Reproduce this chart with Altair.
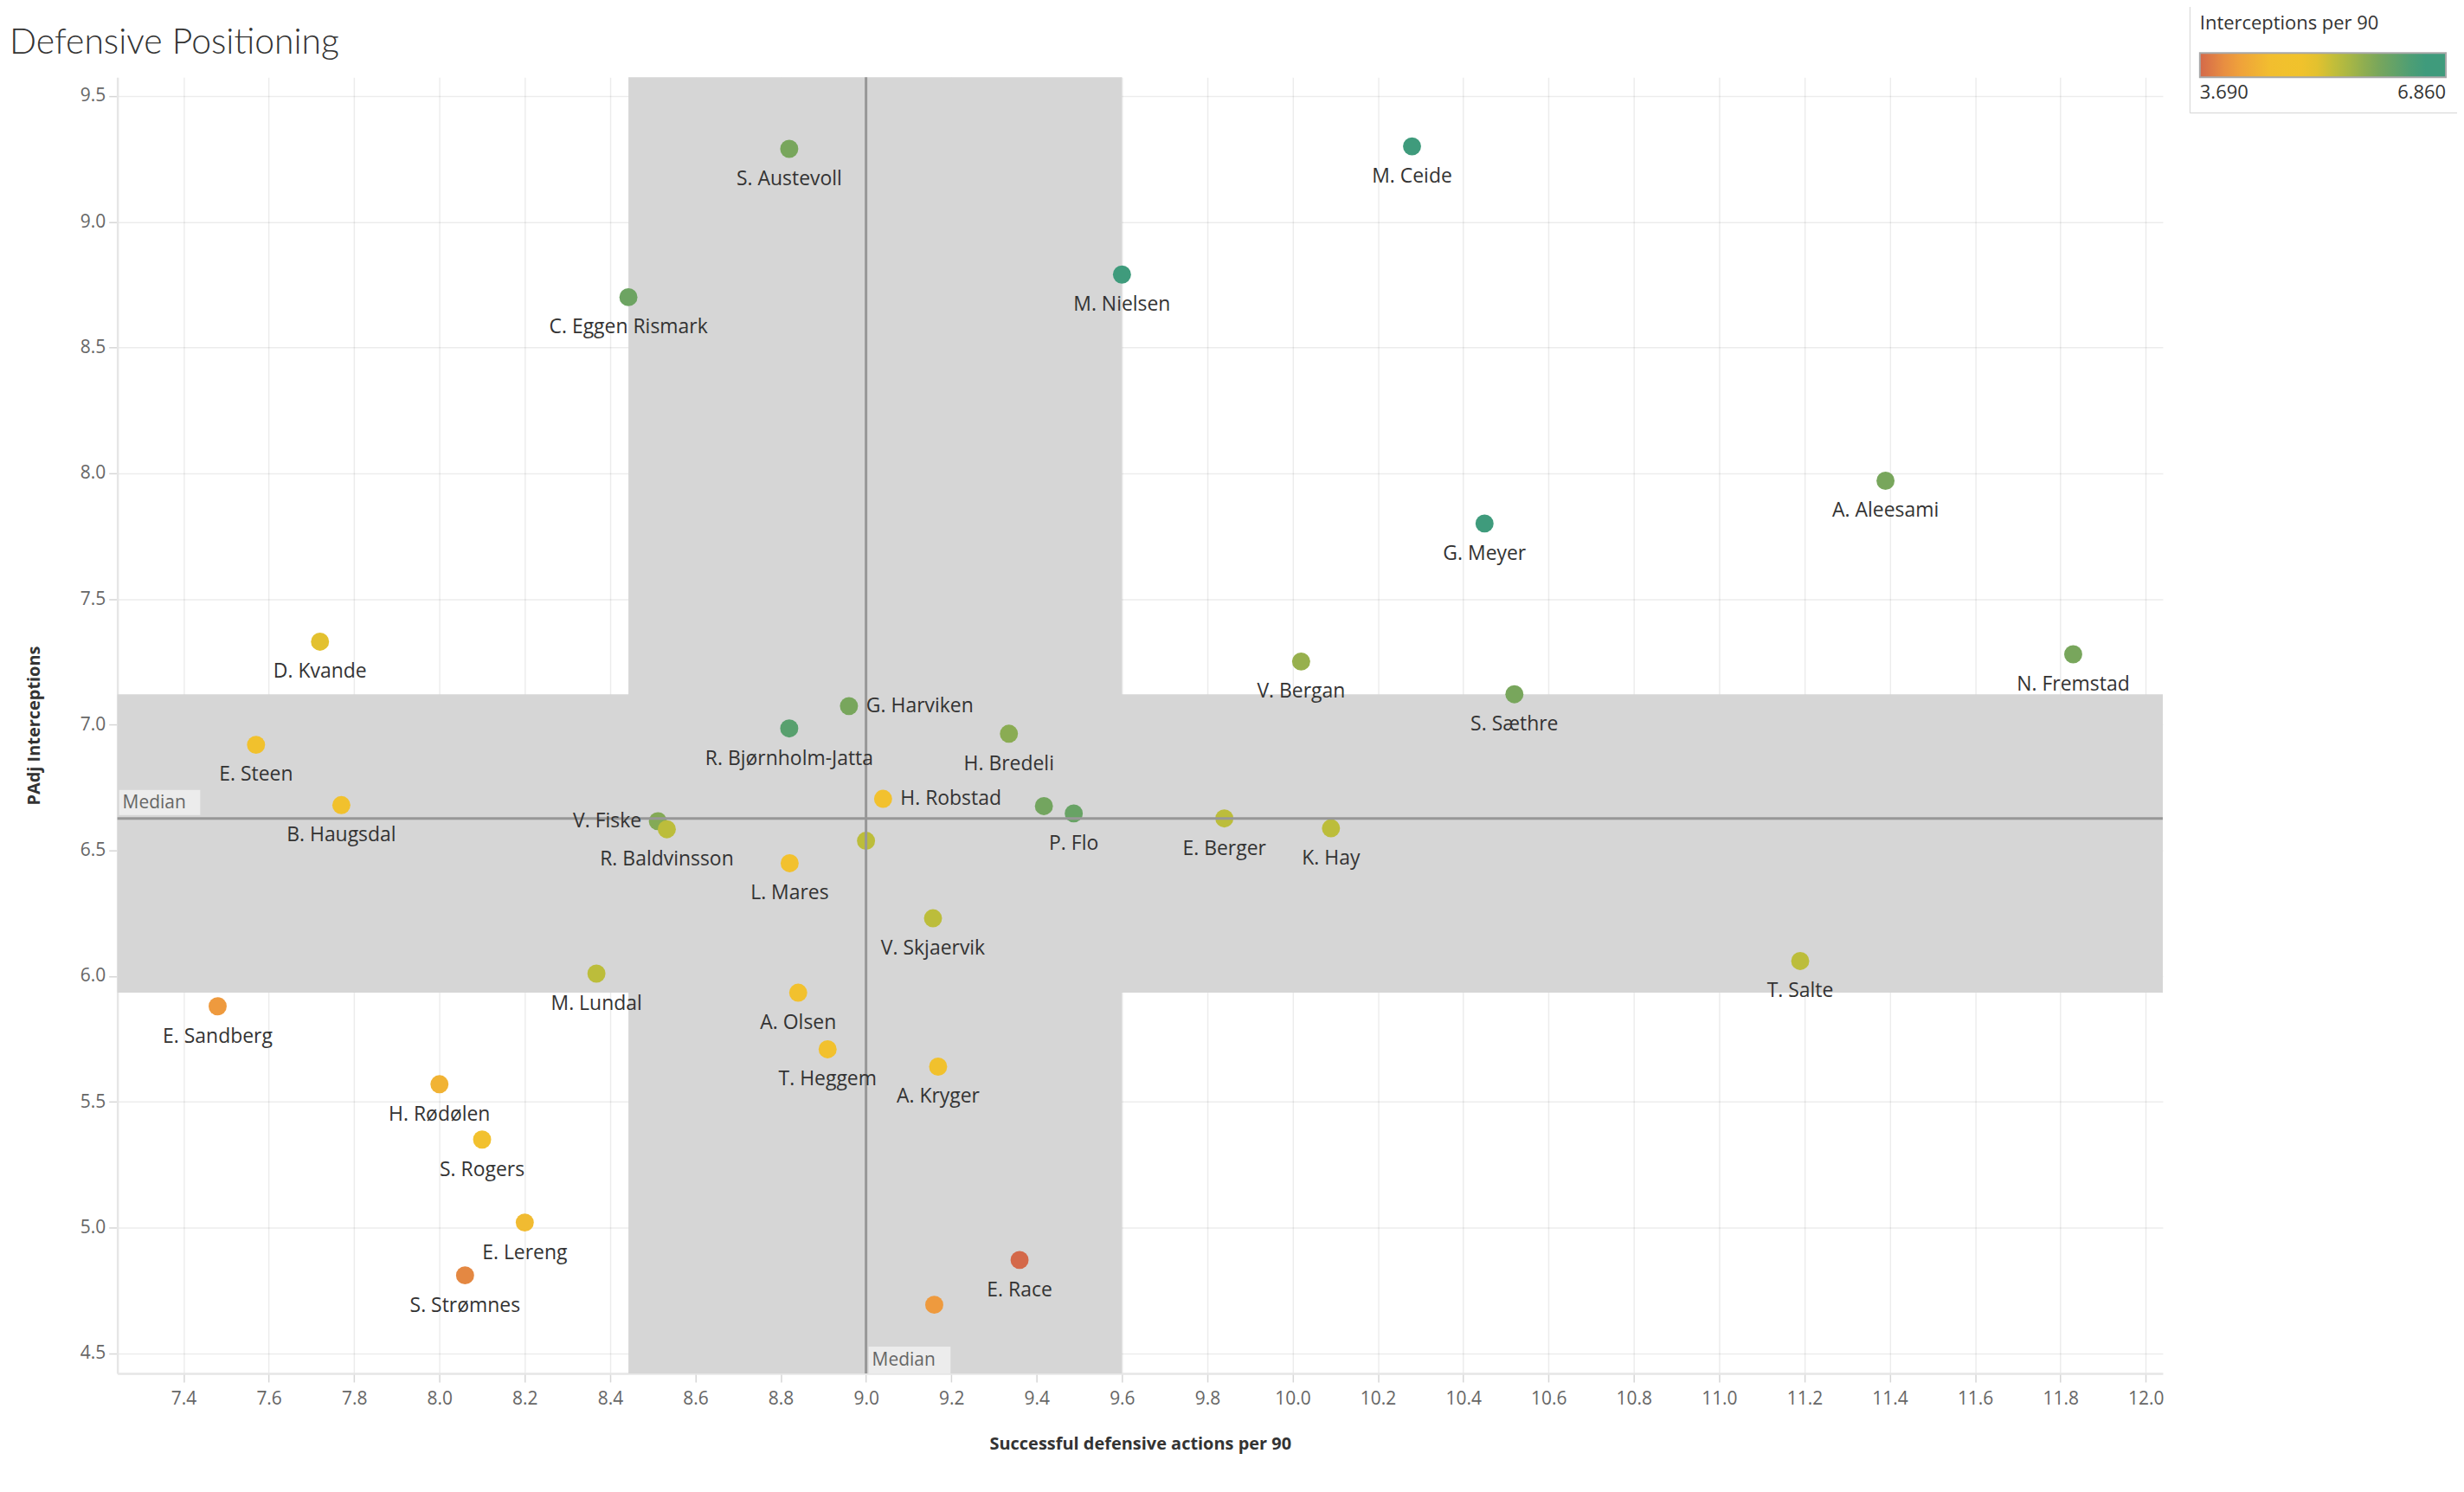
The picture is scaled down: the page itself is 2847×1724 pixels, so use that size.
import altair as alt
import pandas as pd

# ---------------- data ----------------
names = ["S. Austevoll", "M. Ceide", "C. Eggen Rismark", "M. Nielsen", "A. Aleesami",
         "G. Meyer", "D. Kvande", "N. Fremstad", "V. Bergan", "S. Sæthre",
         "G. Harviken", "R. Bjørnholm-Jatta", "H. Bredeli", "E. Steen", "H. Robstad",
         "B. Haugsdal", "", "P. Flo", "E. Berger", "V. Fiske",
         "R. Baldvinsson", "K. Hay", "", "L. Mares", "V. Skjaervik",
         "T. Salte", "M. Lundal", "E. Sandberg", "A. Olsen", "T. Heggem",
         "A. Kryger", "H. Rødølen", "S. Rogers", "E. Lereng", "S. Strømnes",
         "E. Race", ""]
sda = [8.82, 10.28, 8.443, 9.60, 11.39,
       10.45, 7.72, 11.83, 10.02, 10.52,
       8.96, 8.82, 9.335, 7.57, 9.04,
       7.77, 9.417, 9.487, 9.84, 8.512,
       8.533, 10.09, 9.00, 8.821, 9.157,
       11.19, 8.368, 7.48, 8.841, 8.91,
       9.169, 8.00, 8.10, 8.20, 8.06,
       9.36, 9.16]
padj = [9.29, 9.30, 8.70, 8.79, 7.97,
        7.80, 7.33, 7.28, 7.251, 7.121,
        7.074, 6.985, 6.964, 6.92, 6.705,
        6.68, 6.676, 6.647, 6.627, 6.616,
        6.584, 6.588, 6.538, 6.449, 6.230,
        6.06, 6.010, 5.88, 5.934, 5.709,
        5.640, 5.57, 5.35, 5.02, 4.81,
        4.871, 4.693]
inter = [6.0, 6.86, 6.1, 6.7, 6.0,
         6.75, 5.2, 6.0, 5.75, 6.0,
         6.0, 6.3, 5.85, 4.8, 4.7,
         4.75, 6.05, 6.15, 5.45, 5.9,
         5.45, 5.45, 5.45, 4.7, 5.45,
         5.45, 5.45, 4.1, 4.7, 4.7,
         4.8, 4.45, 4.65, 4.55, 3.95,
         3.69, 4.1]

X_DOMAIN = [7.245, 12.04]
Y_DOMAIN = [4.42, 9.575]
X_MEDIAN = 9.0
Y_MEDIAN = 6.627
X_BAND = [8.443, 9.60]
Y_BAND = [5.934, 7.121]
X_TICKS = [7.4, 7.6, 7.8, 8.0, 8.2, 8.4, 8.6, 8.8, 9.0, 9.2, 9.4, 9.6, 9.8, 10.0,
           10.2, 10.4, 10.6, 10.8, 11.0, 11.2, 11.4, 11.6, 11.8, 12.0]
Y_TICKS = [4.5, 5.0, 5.5, 6.0, 6.5, 7.0, 7.5, 8.0, 8.5, 9.0, 9.5]
COLOR_DOMAIN = [3.69, 4.1, 4.64, 5.12, 5.43, 5.97, 6.54, 6.86]
COLOR_RANGE = ["#d4694a", "#ee9a3e", "#f2c12e", "#efc22b", "#bfbe3a", "#7ba75a", "#3f9b7c", "#3f9b7c"]
RIGHT_LABELS = ["G. Harviken", "H. Robstad"]
LEFT_LABELS = ["V. Fiske"]

df = pd.DataFrame({"name": names, "x": sda, "y": padj, "inter": inter})
df_vband = pd.DataFrame({"x": [X_BAND[0]], "x2": [X_BAND[1]], "y": [Y_DOMAIN[0]], "y2": [Y_DOMAIN[1]]})
df_hband = pd.DataFrame({"x": [X_DOMAIN[0]], "x2": [X_DOMAIN[1]], "y": [Y_BAND[0]], "y2": [Y_BAND[1]]})
df_xmed = pd.DataFrame({"x": [X_MEDIAN]})
df_ymed = pd.DataFrame({"y": [Y_MEDIAN]})
df_ymed_lab = pd.DataFrame({"x": [X_DOMAIN[0]], "y": [Y_MEDIAN], "t": ["Median"]})
df_xmed_lab = pd.DataFrame({"x": [X_MEDIAN], "y": [Y_DOMAIN[0]], "t": ["Median"]})

# ---------------- styling ----------------
LABEL_FONT = "Open Sans"
AXIS_FONT = "Open Sans"

xs = alt.Scale(domain=X_DOMAIN, nice=False, zero=False)
ys = alt.Scale(domain=Y_DOMAIN, nice=False, zero=False)
x_axis = alt.Axis(values=X_TICKS, format=".1f", title="Successful defensive actions per 90",
                  titleY=82, titleBaseline="middle", labelPadding=9)
y_axis = alt.Axis(values=Y_TICKS, format=".1f", title="PAdj Interceptions",
                  titleX=-96, titleBaseline="middle", titleAlign="center", labelPadding=4)


def X(f="x"):
    return alt.X(f"{f}:Q", scale=xs, axis=x_axis)


def Y(f="y"):
    return alt.Y(f"{f}:Q", scale=ys, axis=y_axis)


band_color = "#d6d6d6"
vband = alt.Chart(df_vband).mark_rect(color=band_color).encode(x=X(), x2="x2:Q", y=Y(), y2="y2:Q")
hband = alt.Chart(df_hband).mark_rect(color=band_color).encode(x=X(), x2="x2:Q", y=Y(), y2="y2:Q")

cs = alt.Scale(domain=COLOR_DOMAIN, range=COLOR_RANGE, interpolate="rgb")
points = alt.Chart(df).mark_circle(size=440, opacity=1).encode(
    x=X(), y=Y(),
    color=alt.Color("inter:Q", scale=cs, title="Interceptions per 90",
                    legend=alt.Legend(values=[3.69, 6.86], format=".3f", direction="horizontal",
                                      orient="none", legendX=2401, legendY=-84,
                                      gradientLength=285, gradientThickness=28,
                                      titlePadding=22, labelOffset=8, titleLimit=500, labelLimit=300,
                                      padding=12, strokeColor="#d4d4d4", fillColor="#ffffff",
                                      gradientStrokeColor="#a8a8a8", gradientStrokeWidth=2,
                                      titleFont=LABEL_FONT, titleFontSize=22, titleFontWeight="normal",
                                      titleColor="#333333", labelFont=LABEL_FONT, labelFontSize=22,
                                      labelColor="#333333")),
)

HAS_NAME = "isValid(datum.name) && datum.name != ''"
lbl_common = dict(font=LABEL_FONT, fontSize=23, color="#333333")
below = alt.Chart(df).transform_filter(
    f"{HAS_NAME} && indexof({RIGHT_LABELS + LEFT_LABELS}, datum.name) < 0"
).mark_text(baseline="middle", align="center", dy=35, **lbl_common).encode(x=X(), y=Y(), text="name:N")
right = alt.Chart(df).transform_filter(
    alt.FieldOneOfPredicate(field="name", oneOf=RIGHT_LABELS)
).mark_text(baseline="middle", align="left", dx=20, **lbl_common).encode(x=X(), y=Y(), text="name:N")
left = alt.Chart(df).transform_filter(
    alt.FieldOneOfPredicate(field="name", oneOf=LEFT_LABELS)
).mark_text(baseline="middle", align="right", dx=-19, **lbl_common).encode(x=X(), y=Y(), text="name:N")

med_color = "#979797"
xmed = alt.Chart(df_xmed).mark_rule(color=med_color, strokeWidth=3).encode(x=X())
ymed = alt.Chart(df_ymed).mark_rule(color=med_color, strokeWidth=3).encode(y=Y())

box_color = "#ececec"
ymed_box = alt.Chart(df_ymed_lab).mark_rect(color=box_color, xOffset=2, x2Offset=96, yOffset=-33, y2Offset=-4).encode(
    x=X(), x2="x:Q", y=Y(), y2="y:Q")
ymed_txt = alt.Chart(df_ymed_lab).mark_text(align="left", baseline="middle", dx=6, dy=-18,
                                            font=AXIS_FONT, fontSize=21, color="#666666").encode(
    x=X(), y=Y(), text="t:N")
xmed_box = alt.Chart(df_xmed_lab).mark_rect(color=box_color, xOffset=3, x2Offset=98, yOffset=-31, y2Offset=0).encode(
    x=X(), x2="x:Q", y=Y(), y2="y:Q")
xmed_txt = alt.Chart(df_xmed_lab).mark_text(align="left", baseline="middle", dx=7, dy=-15,
                                            font=AXIS_FONT, fontSize=21, color="#666666").encode(
    x=X(), y=Y(), text="t:N")

chart = alt.layer(
    vband, hband, points, xmed, ymed, below, right, left,
    ymed_box, ymed_txt, xmed_box, xmed_txt,
).properties(
    width=2370, height=1502,
    background="#ffffff",
    autosize=alt.AutoSizeParams(type="none"),
    padding={"left": 128, "top": 79, "right": 341, "bottom": 127},
    title=alt.TitleParams("Defensive Positioning", anchor="start", frame="group", dx=-125,
                          offset=29, dy=127, baseline="alphabetic", font="Lato", fontWeight=300,
                          fontSize=41, color="#333333"),
).configure_view(strokeWidth=0).configure_axis(
    zindex=1,
    gridColor="#000000", gridOpacity=0.075, gridWidth=1.5,
    domainColor="#e6e6e6", domainWidth=2.5,
    tickColor="#d6d6d6", tickSize=10, tickWidth=1.5,
    labelFont=AXIS_FONT, labelFontSize=21, labelColor="#666666",
    titleFont=AXIS_FONT, titleFontSize=20, titleFontWeight="bold", titleColor="#333333",
)

chart.save("out.html", embed_options={"renderer": "svg", "actions": False})
